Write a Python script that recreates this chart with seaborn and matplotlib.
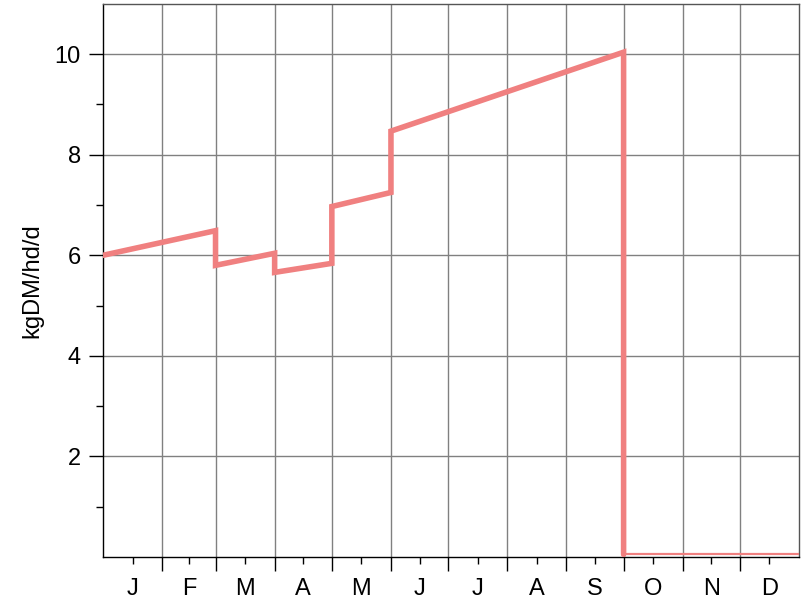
import numpy as np
import pandas as pd
import seaborn as sns
import matplotlib.pyplot as plt
from matplotlib.ticker import FixedLocator

# --- data ---
days = [0, 59, 59, 90, 90, 120, 120, 151, 151, 273, 273]
kgdm = [6.0, 6.49, 5.80, 6.04, 5.66, 5.84, 6.97, 7.25, 8.47, 10.04, 0.05]
tail_days = [273, 365]
tail_kgdm = [0.05, 0.05]
month_letters = ["J", "F", "M", "A", "M", "J", "J", "A", "S", "O", "N", "D"]
month_lengths = [31, 28, 31, 30, 31, 30, 31, 31, 30, 31, 30, 31]

month_edges = np.concatenate([[0], np.cumsum(month_lengths)])
month_mids = (month_edges[:-1] + month_edges[1:]) / 2

sns.set_theme(style="white")
plt.rcParams["font.family"] = ["Liberation Sans", "DejaVu Sans"]
plt.rcParams["text.color"] = "black"
plt.rcParams["axes.labelcolor"] = "black"
plt.rcParams["xtick.color"] = "black"
plt.rcParams["ytick.color"] = "black"

fig = plt.figure(figsize=(8.08, 6.06), dpi=100)
ax = fig.add_axes([0.1275, 0.081, 0.8614, 0.9125])

line_color = "#F08080"
df = pd.DataFrame({"day": days, "kgdm": kgdm})
sns.lineplot(data=df, x="day", y="kgdm", ax=ax, sort=False, estimator=None,
             color=line_color, linewidth=4.0, solid_joinstyle="miter", zorder=3)
df_tail = pd.DataFrame({"day": tail_days, "kgdm": tail_kgdm})
sns.lineplot(data=df_tail, x="day", y="kgdm", ax=ax, sort=False, estimator=None,
             color=line_color, linewidth=1.6, zorder=3)

ax.set_xlim(0, 365)
ax.set_ylim(0, 11)

# x: month boundaries as major ticks (grid), letters at mid-month
ax.xaxis.set_major_locator(FixedLocator(month_edges[1:-1]))
ax.xaxis.set_minor_locator(FixedLocator(month_mids))
ax.set_xticklabels([], minor=False)
ax.set_xticklabels(month_letters, minor=True)
ax.tick_params(axis="x", which="major", length=10, width=1, color="black", labelsize=0)
ax.tick_params(axis="x", which="minor", length=5, width=1, color="black",
               labelsize=17, pad=10, labelcolor="black")

# y
ax.yaxis.set_major_locator(FixedLocator([2, 4, 6, 8, 10]))
ax.yaxis.set_minor_locator(FixedLocator([1, 3, 5, 7, 9]))
ax.tick_params(axis="y", which="major", length=10, width=1, color="black",
               labelsize=17, pad=6, labelcolor="black")
ax.tick_params(axis="y", which="minor", length=5, width=1, color="black")
ax.tick_params(which="both", direction="out", bottom=True, left=True)

ax.grid(True, which="major", color="#808080", linewidth=1)
ax.set_axisbelow(True)

for side in ["left", "bottom"]:
    ax.spines[side].set_color("black")
    ax.spines[side].set_linewidth(1)
for side in ["top", "right"]:
    ax.spines[side].set_color("#555555")
    ax.spines[side].set_linewidth(1)

ax.set_xlabel("")
ax.set_ylabel("kgDM/hd/d", fontsize=17, labelpad=8, color="black")

fig.savefig("out.png", dpi=100)
plt.close(fig)
